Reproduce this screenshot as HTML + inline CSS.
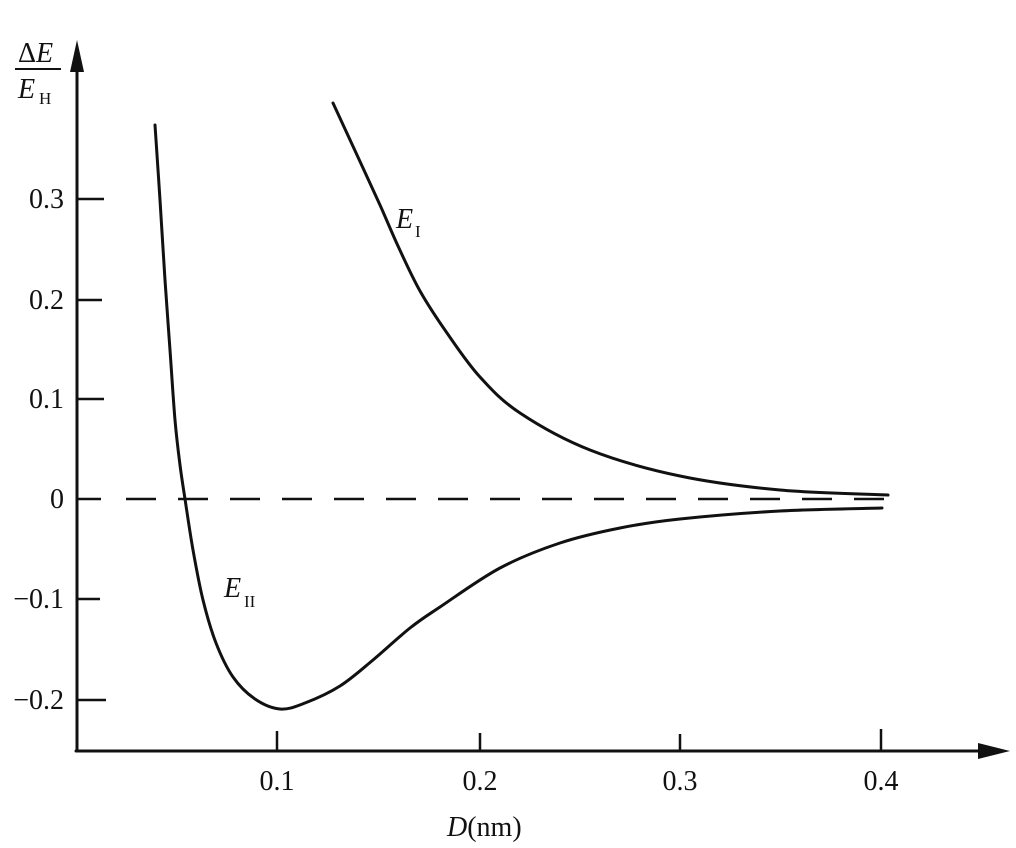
<!DOCTYPE html>
<html><head><meta charset="utf-8"><style>
html,body{margin:0;padding:0;background:#fff;}
svg{display:block;}
text{font-family:"Liberation Serif",serif;fill:#111;}
</style></head><body>
<svg width="1016" height="848" viewBox="0 0 1016 848">
<g stroke="#111" fill="none" stroke-linejoin="round" stroke-linecap="round">
<line x1="77" y1="60" x2="77" y2="751" stroke-width="3"/>
<line x1="76" y1="751" x2="990" y2="751" stroke-width="3"/>
<g stroke-width="2.5" stroke-linecap="butt">
<line x1="77" y1="199" x2="104" y2="199"/>
<line x1="77" y1="300" x2="102" y2="300"/>
<line x1="77" y1="399" x2="104" y2="399"/>
<line x1="77" y1="499" x2="101" y2="499"/>
<line x1="77" y1="599" x2="100" y2="599"/>
<line x1="77" y1="700" x2="106" y2="700"/>
<line x1="277" y1="731" x2="277" y2="751"/>
<line x1="480" y1="733" x2="480" y2="751"/>
<line x1="680" y1="734" x2="680" y2="751"/>
<line x1="881" y1="729" x2="881" y2="751"/>
</g>
<line x1="126" y1="499" x2="906" y2="499" stroke-width="2.4" stroke-dasharray="30,22" stroke-linecap="butt"/>
<path id="c2" stroke-width="3" d=""/>
<path id="c1" stroke-width="3" d=""/>
</g>
<polygon points="77,40 70,72 84,72" fill="#111"/>
<polygon points="1010,751 978,743 978,759" fill="#111"/>
<g font-size="28">
<text x="64" y="208" text-anchor="end">0.3</text>
<text x="64" y="309" text-anchor="end">0.2</text>
<text x="64" y="408" text-anchor="end">0.1</text>
<text x="64" y="508" text-anchor="end">0</text>
<text x="64" y="608" text-anchor="end">−0.1</text>
<text x="64" y="709" text-anchor="end">−0.2</text>
<text x="277" y="790" text-anchor="middle">0.1</text>
<text x="480" y="790" text-anchor="middle">0.2</text>
<text x="680" y="790" text-anchor="middle">0.3</text>
<text x="881" y="790" text-anchor="middle">0.4</text>
<text x="447" y="836"><tspan font-style="italic">D</tspan>(nm)</text>
<text x="18" y="62"><tspan>Δ</tspan><tspan font-style="italic">E</tspan></text>
<text x="18" y="98" font-style="italic">E</text>
<text x="396" y="228" font-style="italic">E</text>
<text x="224" y="597" font-style="italic">E</text>
</g>
<line x1="15" y1="69" x2="61" y2="69" stroke="#111" stroke-width="2"/>
<g font-size="17">
<text x="39" y="104">H</text>
<text x="415" y="237">I</text>
<text x="244" y="607">II</text>
</g>
</svg>
<script>
function cr(p){var d="M"+p[0][0]+","+p[0][1];for(var i=0;i<p.length-1;i++){var a=p[i-1]||p[i],b=p[i],c=p[i+1],e=p[i+2]||c;
d+=" C"+(b[0]+(c[0]-a[0])/6)+","+(b[1]+(c[1]-a[1])/6)+" "+(c[0]-(e[0]-b[0])/6)+","+(c[1]-(e[1]-b[1])/6)+" "+c[0]+","+c[1];}return d;}
document.getElementById("c2").setAttribute("d",cr([[155,125],[160,200],[165,280],[170,350],[175,420],[180,465],[185,499],[193,550],[203,600],[216,643],[233,677],[255,699],[280,709],[305,703],[340,686],[373,660],[410,628],[440,607],[500,568],[560,543],[620,528],[680,519],[780,511],[882,508]]));
document.getElementById("c1").setAttribute("d",cr([[333,103],[357,155],[380,205],[398,246],[420,291],[447,333],[480,377],[520,413],[590,450],[680,476],[780,490],[888,495]]));
</script>
</body></html>
